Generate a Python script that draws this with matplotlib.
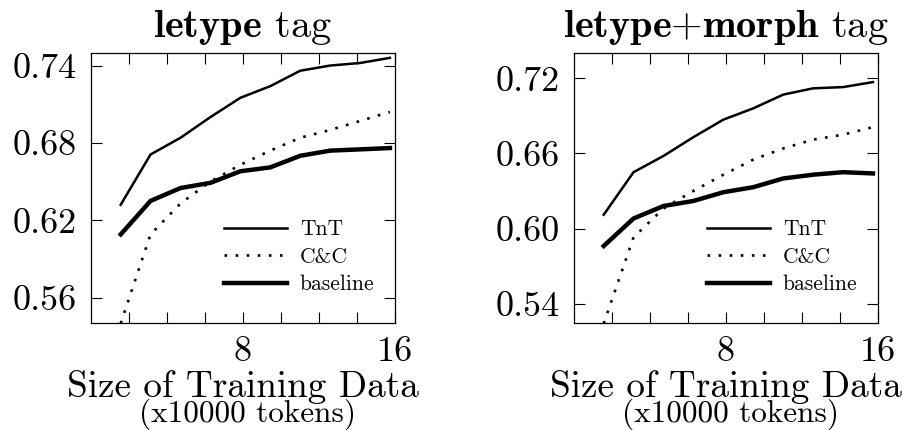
import matplotlib
matplotlib.use("Agg")
import matplotlib.pyplot as plt

plt.rcParams['font.family'] = 'cmr10'
plt.rcParams['mathtext.fontset'] = 'cm'
plt.rcParams['axes.unicode_minus'] = False
plt.rcParams['axes.formatter.use_mathtext'] = True

# training size (x10000 tokens)
sizes = [1.58, 3.15, 4.73, 6.3, 7.88, 9.45, 11.03, 12.6, 14.18, 15.75]

# letype tag
tnt_letype = [0.632, 0.671, 0.684, 0.700, 0.715, 0.724, 0.736, 0.740, 0.742, 0.746]
cc_letype = [0.540, 0.609, 0.633, 0.650, 0.663, 0.674, 0.684, 0.690, 0.697, 0.704]
base_letype = [0.609, 0.635, 0.645, 0.649, 0.658, 0.661, 0.670, 0.674, 0.675, 0.676]

# letype+morph tag
tnt_morph = [0.611, 0.645, 0.658, 0.673, 0.687, 0.696, 0.707, 0.712, 0.713, 0.717]
cc_morph = [0.524, 0.593, 0.616, 0.630, 0.643, 0.655, 0.664, 0.671, 0.675, 0.681]
base_morph = [0.586, 0.608, 0.618, 0.622, 0.629, 0.633, 0.640, 0.643, 0.645, 0.644]

xticks = [2, 4, 6, 8, 10, 12, 14, 16]
xticklabels = ['', '', '', '8', '', '', '', '16']


def draw_panel(ax, tnt, cc, base, title, ylim, yticks):
    ax.plot(sizes, tnt, color='black', lw=1.8, label='TnT')
    ax.plot(sizes, cc, color='black', lw=1.9, linestyle=(0, (1, 3.2)),
            dash_capstyle='butt', label='C&C')
    ax.plot(sizes, base, color='black', lw=3.2, label='baseline')
    ax.set_xlim(0, 16)
    ax.set_ylim(*ylim)
    ax.set_xticks(xticks)
    ax.set_xticklabels(xticklabels)
    ax.set_yticks(yticks)
    ax.set_yticklabels(['%.2f' % t for t in yticks])
    ax.tick_params(direction='in', top=True, right=True, length=8, width=0.8,
                   labelsize=26)
    ax.tick_params(axis='y', pad=10)
    ax.tick_params(axis='x', pad=9)
    for s in ax.spines.values():
        s.set_linewidth(0.9)
    ax.set_title(title, fontsize=29, pad=11)
    ax.text(0.5, -0.272, 'Size of Training Data', transform=ax.transAxes,
            ha='center', va='baseline', fontsize=26.8)
    ax.text(0.515, -0.365, '(x10000 tokens)', transform=ax.transAxes,
            ha='center', va='baseline', fontsize=22.5)
    ax.legend(loc='center left', bbox_to_anchor=(0.44, 0.245), frameon=False,
              fontsize=15.5, handlelength=2.9, handletextpad=0.6,
              labelspacing=0.38, borderpad=0, borderaxespad=0)


fig = plt.figure(figsize=(9.04, 4.30), dpi=100)
ax1 = fig.add_axes([0.1003, 0.248, 0.3363, 0.6295])
ax2 = fig.add_axes([0.6346, 0.248, 0.3363, 0.6295])

draw_panel(ax1, tnt_letype, cc_letype, base_letype,
           r'$\mathbf{letype}$ tag', (0.540, 0.750), [0.56, 0.62, 0.68, 0.74])
draw_panel(ax2, tnt_morph, cc_morph, base_morph,
           r'$\mathbf{letype{+}morph}$ tag', (0.5242, 0.7405),
           [0.54, 0.60, 0.66, 0.72])

fig.savefig('out.png', dpi=100)
